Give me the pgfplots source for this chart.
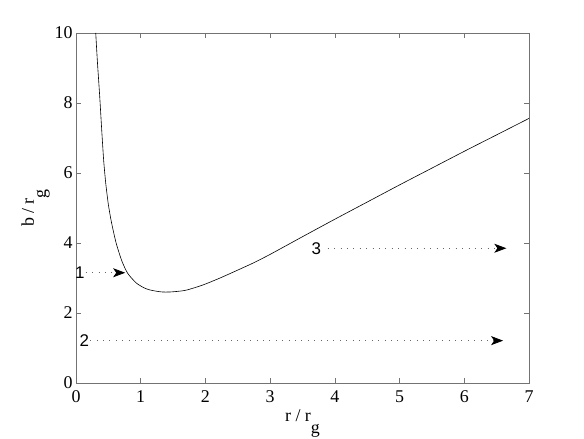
\documentclass[border=0pt]{standalone}
\usepackage{pgfplots}
\pgfplotsset{compat=1.18}
\usepackage{fontspec}
\setmainfont{Liberation Serif}
\newfontfamily\helv{Liberation Sans}
\usetikzlibrary{arrows.meta}

\begin{document}
\begin{tikzpicture}
\path[use as bounding box] (-76bp,-56bp) rectangle (508bp,383bp);
\begin{axis}[
  scale only axis, width=453bp, height=350bp,
  at={(0,0)}, anchor=south west,
  xmin=0, xmax=7, ymin=0, ymax=10,
  xtick={0,1,...,7}, ytick={0,2,...,10},
  tick align=inside, major tick length=5bp,
  axis line style={draw=black!55, line width=0.9bp},
  every tick/.style={draw=black!55, line width=0.6bp},
  /pgf/number format/assume math mode=true,
  ticklabel style={font=\fontsize{18}{18}\selectfont},
  xticklabel style={yshift=-4bp},
  clip=false,
]
\addplot[black, line width=0.6bp, smooth, tension=0.4] coordinates {
(0.305,10) (0.33,9.2) (0.366,8.2) (0.40,7.15) (0.428,6.35) (0.46,5.7)
(0.50,5.1) (0.547,4.6) (0.62,4.0) (0.71,3.48) (0.80,3.13) (0.93,2.86)
(1.05,2.72) (1.14,2.66) (1.25,2.62) (1.34,2.60) (1.45,2.60) (1.58,2.62)
(1.71,2.655) (1.96,2.80) (2.22,2.995) (2.48,3.21) (2.74,3.43) (3.0,3.675)
(3.5,4.18) (4.0,4.68) (4.5,5.17) (5.0,5.66) (5.5,6.14) (6.0,6.62)
(6.5,7.09) (7.0,7.56)
};
% annotation arrows
\draw[black!60, line width=0.8bp, dash pattern=on 0.8bp off 5.6bp,
  -{Stealth[length=12bp,width=9bp,inset=3bp,black]}]
  (axis cs:0.15,3.15) -- (axis cs:0.76,3.15);
\draw[black!60, line width=0.8bp, dash pattern=on 0.8bp off 5.6bp,
  -{Stealth[length=12bp,width=9bp,inset=3bp,black]}]
  (axis cs:0.22,1.21) -- (axis cs:6.6,1.21);
\draw[black!60, line width=0.8bp, dash pattern=on 0.8bp off 5.6bp,
  -{Stealth[length=12bp,width=9bp,inset=3bp,black]}]
  (axis cs:3.89,3.85) -- (axis cs:6.65,3.85);
\node[font=\helv\fontsize{17}{17}\selectfont, inner sep=0pt] at (axis cs:0.06,3.15) {1};
\node[font=\helv\fontsize{17}{17}\selectfont, inner sep=0pt] at (axis cs:0.13,1.21) {2};
\node[font=\helv\fontsize{17}{17}\selectfont, inner sep=0pt] at (axis cs:3.715,3.85) {3};
% axis labels
\node[anchor=base, inner sep=0pt, font=\fontsize{18}{18}\selectfont]
  at ([yshift=-38bp]rel axis cs:0.5,0) {r / r\raisebox{-12bp}{g}};
\node[anchor=base, inner sep=0pt, rotate=90, font=\fontsize{18}{18}\selectfont]
  at ([xshift=-42bp]rel axis cs:0,0.5) {b / r\raisebox{-12bp}{g}};
\end{axis}
\end{tikzpicture}
\end{document}
